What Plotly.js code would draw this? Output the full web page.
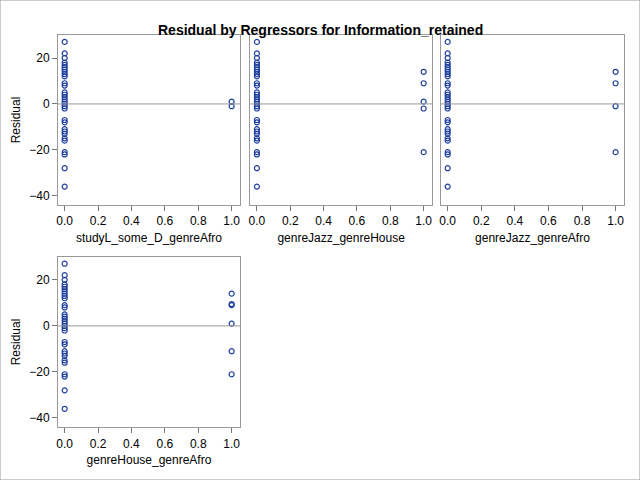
<!DOCTYPE html>
<html>
<head>
<script src="https://cdn.plot.ly/plotly-3.0.1.min.js"></script>
<style>body{margin:0}#chart{width:640px;height:480px}</style>
</head>
<body>
<div id="chart"></div>
<script>
// residuals of observations where the regressor is 0 (shared by all panels)
const zeroResid = [27, 22, 20, 18, 17, 16, 15, 14, 13, 12, 9, 8, 5, 4, 3, 2, 1, 0, -1, -2,
  -7, -8, -11, -12, -13, -15, -16, -21, -22, -28, -36];
const regressors = ["studyL_some_D_genreAfro", "genreJazz_genreHouse", "genreJazz_genreAfro", "genreHouse_genreAfro"];
const oneResid = [
  [1, -1],
  [14, 9, 1, -2, -21],
  [14, 9, -1, -21],
  [14, 9.5, 9, 1, -11, -21]
];

const xDom = [[0.0906, 0.375], [0.391, 0.675], [0.689, 0.975]];
const yDom = [[0.573, 0.927], [0.110, 0.465]];
const blue = "#1f3f9f";

const traces = [];
const layout = {
  width: 640, height: 480,
  margin: { l: 0, r: 0, t: 0, b: 0 },
  paper_bgcolor: "white", plot_bgcolor: "white",
  showlegend: false,
  font: { family: "Liberation Sans, Arial, sans-serif", size: 12, color: "#000" },
  annotations: [{
    text: "<b>Residual by Regressors for Information_retained</b>",
    x: 0.5, y: 1 - 20 / 480, xref: "paper", yref: "paper",
    showarrow: false, font: { size: 14 }
  }],
  shapes: [{
    type: "rect", xref: "paper", yref: "paper", x0: 0, x1: 1, y0: 0, y1: 1,
    line: { color: "#999", width: 1 }
  }]
};

regressors.forEach((name, i) => {
  const n = i + 1;
  const sfx = n === 1 ? "" : n;
  const xs = zeroResid.map(() => 0).concat(oneResid[i].map(() => 1));
  const ys = zeroResid.concat(oneResid[i]);
  traces.push({
    x: xs, y: ys, type: "scatter", mode: "markers",
    xaxis: "x" + sfx, yaxis: "y" + sfx,
    marker: { symbol: "circle-open", size: 5, color: blue, line: { width: 1.2, color: blue } }
  });
  traces.push({
    x: [-0.04, 1.05], y: [0, 0], type: "scatter", mode: "lines",
    xaxis: "x" + sfx, yaxis: "y" + sfx, hoverinfo: "skip",
    line: { color: "#999", width: 1 }
  });
  const col = i % 3, row = Math.floor(i / 3);
  layout["xaxis" + sfx] = {
    domain: xDom[col], anchor: "y" + sfx, range: [-0.04, 1.05],
    tickvals: [0, 0.2, 0.4, 0.6, 0.8, 1], ticktext: ["0.0", "0.2", "0.4", "0.6", "0.8", "1.0"],
    ticks: "outside", ticklen: 5, tickcolor: "#777", showgrid: false, zeroline: false,
    showline: true, mirror: true, linecolor: "#999",
    title: { text: name, standoff: 6, font: { size: 12 } }, tickfont: { size: 12 }
  };
  layout["yaxis" + sfx] = {
    domain: yDom[row], anchor: "x" + sfx, range: [-44, 30],
    tickvals: [-40, -20, 0, 20], ticks: col === 0 ? "outside" : "", ticklen: 5, tickcolor: "#777",
    showticklabels: col === 0, showgrid: false, zeroline: false,
    showline: true, mirror: true, linecolor: "#999",
    title: { text: col === 0 ? "Residual" : "", standoff: 6, font: { size: 12 } }, tickfont: { size: 12 }
  };
});

Plotly.newPlot("chart", traces, layout, { displayModeBar: false, staticPlot: true });
</script>
</body>
</html>
